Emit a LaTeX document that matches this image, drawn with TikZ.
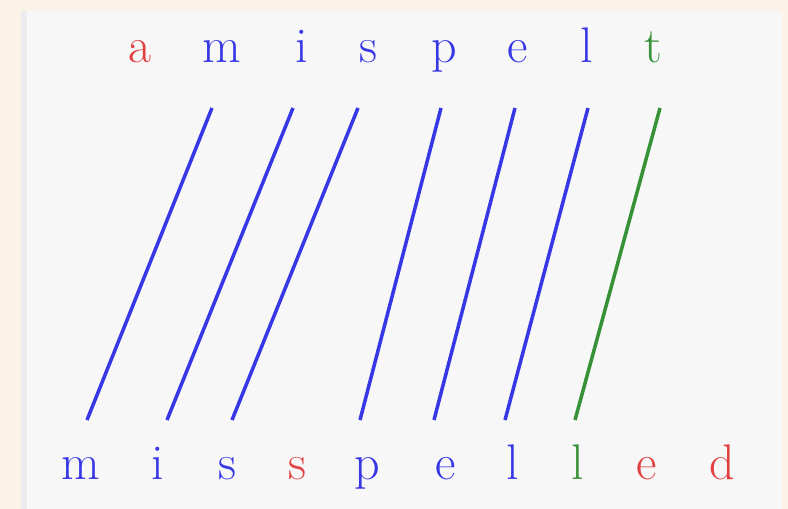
\documentclass[tikz,border=0pt]{standalone}
\usepackage{xcolor}
\usetikzlibrary{positioning}

\definecolor{peach}{RGB}{253,242,231}
\definecolor{panel}{RGB}{247,247,248}
\definecolor{paneledge}{RGB}{236,236,240}
\definecolor{matchblue}{RGB}{55,55,230}
\definecolor{editred}{RGB}{225,65,65}
\definecolor{subgreen}{RGB}{55,145,55}

\begin{document}
\begin{tikzpicture}[
		x=0.02cm, y=-0.02cm,
		letter/.style={font=\fontsize{28.5}{30}\selectfont, inner sep=0pt, anchor=base},
		upper/.style={letter, text depth=0pt, outer ysep=0.9cm},
		lower/.style={letter, text height=0.7cm, outer ysep=0.5cm},
		kept/.style={text=matchblue},
		dropped/.style={text=editred},
		swapped/.style={text=subgreen},
		blueline/.style={draw=matchblue, line width=2pt},
		greenline/.style={draw=subgreen, line width=2pt}
		]
		
		% ==========================================
		% background
		% ==========================================
		\fill[peach] (0,0) rectangle (788,509);
		\fill[panel] (21,11) rectangle (782,509);
		\fill[paneledge] (21,11) rectangle (27,509);
		\useasboundingbox (0,0) rectangle (788,509);
		
		% ==========================================
		% top word
		% ==========================================
		\node[upper, dropped] (t1) at (140,63) {a};
		\node[upper, kept] (t2) at (222,63) {m};
		\node[upper, kept] (t3) at (302,63) {i};
		\node[upper, kept] (t4) at (368,63) {s};
		\node[upper, kept] (t5) at (444,63) {p};
		\node[upper, kept] (t6) at (518,63) {e};
		\node[upper, kept] (t7) at (587,63) {l};
		\node[upper, swapped] (t8) at (653,63) {t};
		
		% ==========================================
		% bottom word
		% ==========================================
		\node[lower, kept] (b1) at (81,480) {m};
		\node[lower, kept] (b2) at (158,480) {i};
		\node[lower, kept] (b3) at (227,480) {s};
		\node[lower, dropped] (b4) at (297,480) {s};
		\node[lower, kept] (b5) at (367,480) {p};
		\node[lower, kept] (b6) at (446,480) {e};
		\node[lower, kept] (b7) at (513,480) {l};
		\node[lower, swapped] (b8) at (578,480) {l};
		\node[lower, dropped] (b9) at (647,480) {e};
		\node[lower, dropped] (b10) at (722,480) {d};
		
		% ==========================================
		% alignment
		% ==========================================
		\draw[blueline] ([shift={(-10,0)}]t2.south) -- ([shift={(6,0)}]b1.north);
		\draw[blueline] ([shift={(-9,0)}]t3.south) -- ([shift={(9,0)}]b2.north);
		\draw[blueline] ([shift={(-10,0)}]t4.south) -- ([shift={(5,0)}]b3.north);
		\draw[blueline] ([shift={(-3,0)}]t5.south) -- ([shift={(-7,0)}]b5.north);
		\draw[blueline] ([shift={(-3,0)}]t6.south) -- ([shift={(-12,0)}]b6.north);
		\draw[blueline] ([shift={(1,0)}]t7.south) -- ([shift={(-8,0)}]b7.north);
		\draw[greenline] ([shift={(7,0)}]t8.south) -- ([shift={(-3,0)}]b8.north);
		
	\end{tikzpicture}
\end{document}
